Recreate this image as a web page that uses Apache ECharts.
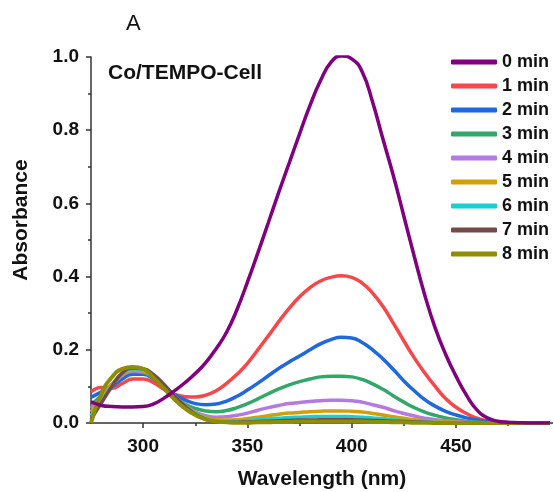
<!DOCTYPE html>
<html>
<head>
<meta charset="utf-8">
<script src="https://cdn.jsdelivr.net/npm/echarts@6/dist/echarts.min.js"></script>
<style>
  html, body { margin: 0; padding: 0; background: #fff; }
  #chart { width: 553px; height: 492px; }
</style>
</head>
<body>
<div id="chart"></div>
<script>
// wavelength grid (nm)
const wavelengths = [275, 280, 285, 290, 295, 300, 305, 310, 315, 320, 325, 330, 335, 340, 345, 350, 355, 360, 365, 370, 375, 380, 385, 390, 395, 400, 405, 410, 415, 420, 425, 430, 435, 440, 445, 450, 455, 460, 465, 470, 475, 480, 485, 490, 495]

const seriesNames = ['0 min', '1 min', '2 min', '3 min', '4 min', '5 min', '6 min', '7 min', '8 min']
const colors = ['#800080', '#f8474a', '#1f68dd', '#33a66a', '#b47ae0', '#d29f08', '#1ccfcf', '#744a4a', '#8e8e05']

// absorbance
const abs0 = [0.058, 0.048, 0.045, 0.044, 0.044, 0.045, 0.052, 0.068, 0.088, 0.11, 0.135, 0.165, 0.203, 0.248, 0.31, 0.385, 0.465, 0.547, 0.63, 0.71, 0.79, 0.868, 0.935, 0.985, 1.003, 0.995, 0.96, 0.877, 0.775, 0.675, 0.565, 0.455, 0.35, 0.26, 0.188, 0.128, 0.076, 0.036, 0.014, 0.005, 0.002, 0.001, 0, 0, 0]
const abs1 = [0.085, 0.097, 0.095, 0.108, 0.12, 0.12, 0.11, 0.092, 0.078, 0.072, 0.071, 0.076, 0.088, 0.108, 0.133, 0.163, 0.2, 0.238, 0.277, 0.313, 0.345, 0.37, 0.388, 0.398, 0.402, 0.398, 0.382, 0.355, 0.318, 0.272, 0.224, 0.178, 0.137, 0.1, 0.067, 0.043, 0.026, 0.013, 0.006, 0.003, 0.001, 0, 0, 0, 0]
const abs2 = [0.07, 0.085, 0.1, 0.12, 0.133, 0.133, 0.12, 0.098, 0.078, 0.063, 0.053, 0.05, 0.052, 0.06, 0.073, 0.09, 0.109, 0.129, 0.149, 0.167, 0.183, 0.2, 0.216, 0.228, 0.234, 0.232, 0.22, 0.2, 0.175, 0.146, 0.115, 0.088, 0.064, 0.046, 0.032, 0.022, 0.014, 0.008, 0.004, 0.002, 0.001, 0, 0, 0, 0]
const abs3 = [0.05, 0.075, 0.105, 0.13, 0.14, 0.138, 0.122, 0.098, 0.072, 0.052, 0.04, 0.033, 0.031, 0.034, 0.042, 0.053, 0.066, 0.08, 0.093, 0.104, 0.113, 0.12, 0.126, 0.128, 0.128, 0.126, 0.119, 0.107, 0.092, 0.074, 0.057, 0.042, 0.03, 0.021, 0.014, 0.009, 0.005, 0.003, 0.001, 0, 0, 0, 0, 0, 0]
const abs4 = [0.04, 0.07, 0.105, 0.13, 0.142, 0.14, 0.125, 0.1, 0.072, 0.048, 0.03, 0.02, 0.016, 0.017, 0.021, 0.027, 0.035, 0.042, 0.048, 0.053, 0.056, 0.059, 0.061, 0.062, 0.062, 0.061, 0.057, 0.05, 0.043, 0.034, 0.026, 0.019, 0.013, 0.009, 0.006, 0.004, 0.002, 0.001, 0, 0, 0, 0, 0, 0, 0]
const abs5 = [0.03, 0.065, 0.105, 0.133, 0.145, 0.143, 0.128, 0.102, 0.073, 0.048, 0.028, 0.015, 0.009, 0.008, 0.009, 0.012, 0.016, 0.02, 0.024, 0.027, 0.029, 0.031, 0.032, 0.033, 0.033, 0.032, 0.03, 0.026, 0.022, 0.017, 0.013, 0.009, 0.006, 0.004, 0.003, 0.002, 0.001, 0, 0, 0, 0, 0, 0, 0, 0]
const abs6 = [0.02, 0.06, 0.1, 0.135, 0.148, 0.146, 0.13, 0.104, 0.074, 0.047, 0.026, 0.012, 0.005, 0.004, 0.005, 0.007, 0.009, 0.011, 0.013, 0.015, 0.016, 0.017, 0.018, 0.018, 0.018, 0.017, 0.016, 0.014, 0.012, 0.009, 0.007, 0.005, 0.003, 0.002, 0.001, 0, 0, 0, 0, 0, 0, 0, 0, 0, 0]
const abs7 = [0.01, 0.055, 0.1, 0.137, 0.15, 0.148, 0.132, 0.105, 0.074, 0.046, 0.024, 0.01, 0.003, 0.002, 0.002, 0.003, 0.004, 0.005, 0.006, 0.007, 0.008, 0.008, 0.009, 0.009, 0.009, 0.009, 0.008, 0.007, 0.006, 0.005, 0.004, 0.003, 0.002, 0.001, 0, 0, 0, 0, 0, 0, 0, 0, 0, 0, 0]
const abs8 = [0, 0.08, 0.125, 0.148, 0.153, 0.148, 0.124, 0.094, 0.065, 0.04, 0.022, 0.01, 0.004, 0.002, 0.001, 0.001, 0.002, 0.002, 0.003, 0.003, 0.004, 0.004, 0.004, 0.004, 0.004, 0.004, 0.004, 0.003, 0.003, 0.002, 0.002, 0.001, 0.001, 0, 0, 0, 0, 0, 0, 0, 0, 0, 0, 0, 0]

const xMajor = [300, 350, 400, 450]
const xMinor = [325, 375, 425, 475]
const yMajor = [0, 0.2, 0.4, 0.6, 0.8, 1.0]
const yMinor = [0.1, 0.3, 0.5, 0.7, 0.9]

const allAbs = [abs0, abs1, abs2, abs3, abs4, abs5, abs6, abs7, abs8]

const font = "'Liberation Sans', Arial, sans-serif"
const axisColor = '#333'
const textColor = '#111'

const chart = echarts.init(document.getElementById('chart'))

const series = seriesNames.map((name, i) => ({
  name: name,
  type: 'line',
  data: wavelengths.map((w, j) => [w, allAbs[i][j]]),
  symbol: 'none',
  smooth: 0.5,
  z: i === 0 ? 4 : 3,
  lineStyle: { color: colors[i], width: i === 8 ? 4 : 3.5 },
  itemStyle: { color: colors[i] },
  animation: false
}))

chart.setOption({
  animation: false,
  grid: { left: 91, right: 0, top: 57, bottom: 69, outerBoundsMode: 'none' },
  legend: {
    orient: 'vertical',
    left: 446,
    top: 48,
    data: seriesNames,
    icon: 'roundRect',
    itemWidth: 46,
    itemHeight: 5,
    itemGap: 6,
    textStyle: { fontFamily: font, fontWeight: 'bold', fontSize: 18, color: textColor, lineHeight: 18 }
  },
  graphic: [
    { type: 'text', left: 126, top: 13, style: { text: 'A', font: 'normal 22px ' + font, fill: textColor } },
    { type: 'text', left: 108, top: 63, style: { text: 'Co/TEMPO-Cell', font: 'bold 21px ' + font, fill: textColor } },
    {
      type: 'text', x: 21, y: 220, rotation: Math.PI / 2,
      style: { text: 'Absorbance', font: 'bold 21px ' + font, fill: textColor, align: 'center', verticalAlign: 'middle' }
    }
  ],
  xAxis: [
    {
      type: 'value',
      min: 275,
      max: 496.5,
      name: 'Wavelength (nm)',
      nameLocation: 'middle',
      nameGap: 46,
      nameTextStyle: { fontFamily: font, fontWeight: 'bold', fontSize: 21, color: textColor },
      axisLine: { lineStyle: { color: axisColor, width: 1.5 } },
      axisTick: { customValues: xMajor, length: 5, lineStyle: { color: axisColor, width: 1.5 } },
      axisLabel: { customValues: xMajor, margin: 14, fontFamily: font, fontWeight: 'bold', fontSize: 19, color: textColor },
      splitLine: { show: false }
    },
    {
      type: 'value',
      min: 275,
      max: 496.5,
      position: 'bottom',
      axisLine: { show: false },
      axisTick: { customValues: xMinor, length: 3, lineStyle: { color: axisColor, width: 1.5 } },
      axisLabel: { show: false },
      splitLine: { show: false }
    }
  ],
  yAxis: [
    {
      type: 'value',
      min: 0,
      max: 1.0,
      axisLine: { show: true, lineStyle: { color: axisColor, width: 1.5 } },
      axisTick: { show: true, customValues: yMajor, length: 5, lineStyle: { color: axisColor, width: 1.5 } },
      axisLabel: { customValues: yMajor, margin: 12, fontFamily: font, fontWeight: 'bold', fontSize: 19, color: textColor, formatter: v => v.toFixed(1) },
      splitLine: { show: false }
    },
    {
      type: 'value',
      min: 0,
      max: 1.0,
      position: 'left',
      axisLine: { show: false },
      axisTick: { show: true, customValues: yMinor, length: 3, lineStyle: { color: axisColor, width: 1.5 } },
      axisLabel: { show: false },
      splitLine: { show: false }
    }
  ],
  series: series
})
</script>
</body>
</html>
